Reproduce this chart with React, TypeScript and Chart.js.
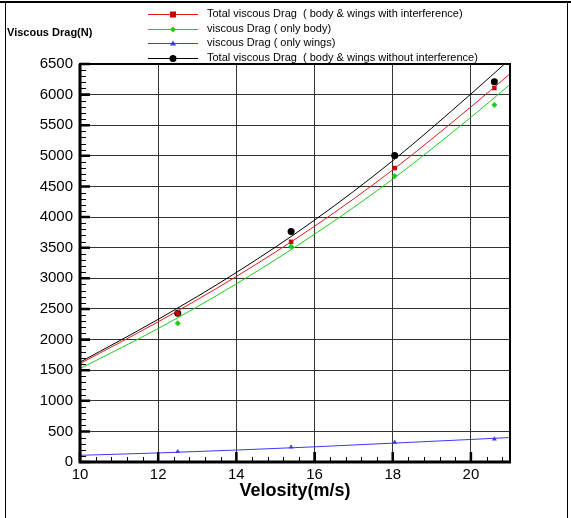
import React, { useEffect, useRef } from "react";
import { Chart, registerables } from "chart.js";

Chart.register(...registerables);

// Fitted curves
const xFit = [10, 12, 14, 16, 18, 20, 21];
const redFit = [1607, 2290, 3030, 3850, 4770, 5800, 6340];
const greenFit = [1525, 2180, 2910, 3720, 4620, 5630, 6165];
const blueFit = [109, 148, 195, 248, 308, 368, 400];
const blackFit = [1630, 2330, 3095, 3950, 4920, 6010, 6580];

// Computed points
const xPts = [12.5, 15.4, 18.05, 20.6];
const redPts = [2425, 3596, 4800, 6108];
const greenPts = [2267, 3519, 4670, 5830];
const bluePts = [168, 245, 322, 376];
const blackPts = [2430, 3764, 5007, 6211];

const xTicks = [10, 12, 14, 16, 18, 20];
const yTicks = [0, 500, 1000, 1500, 2000, 2500, 3000, 3500, 4000, 4500, 5000, 5500, 6000, 6500];

const legendLabels = [
  "Total viscous Drag  ( body & wings with interference)",
  "viscous Drag ( only body)",
  "viscous Drag ( only wings)",
  "Total viscous Drag  ( body & wings without interference)",
];

const RED = "#e01a1a";
const GREEN = "#1ecb1e";
const BLUE = "#3a3aff";
const BLACK = "#000000";
const FONT = "'Liberation Sans', Arial, sans-serif";

const pair = (xs: number[], ys: number[]) => xs.map((x, i) => ({ x, y: ys[i] }));

function drawMarker(ctx: CanvasRenderingContext2D, kind: string, x: number, y: number, color: string) {
  ctx.save();
  ctx.fillStyle = color;
  ctx.beginPath();
  if (kind === "rect") {
    ctx.rect(x - 3, y - 3, 6, 6);
  } else if (kind === "diamond") {
    ctx.moveTo(x, y - 3);
    ctx.lineTo(x + 3, y);
    ctx.lineTo(x, y + 3);
    ctx.lineTo(x - 3, y);
    ctx.closePath();
  } else if (kind === "triangle") {
    ctx.moveTo(x, y - 3);
    ctx.lineTo(x + 3, y + 2);
    ctx.lineTo(x - 3, y + 2);
    ctx.closePath();
  } else {
    ctx.arc(x, y, 3.5, 0, Math.PI * 2);
  }
  ctx.fill();
  ctx.restore();
}

const decorPlugin = {
  id: "decor",
  afterDraw(chart: any) {
    const ctx: CanvasRenderingContext2D = chart.ctx;
    const a = chart.chartArea;
    const xs = chart.scales.x;
    const ys = chart.scales.y;
    ctx.save();
    // outer frame
    ctx.strokeStyle = "#000";
    ctx.lineWidth = 2;
    ctx.beginPath();
    ctx.moveTo(0, 2);
    ctx.lineTo(571, 2);
    ctx.stroke();
    ctx.lineWidth = 1;
    ctx.beginPath();
    ctx.moveTo(5.5, 2);
    ctx.lineTo(5.5, 518);
    ctx.moveTo(567.5, 2);
    ctx.lineTo(567.5, 518);
    ctx.stroke();

    // minor & major ticks (inward)
    ctx.strokeStyle = "#000";
    ctx.lineWidth = 1;
    ctx.beginPath();
    for (let v = 0; v <= 6500; v += 100) {
      const py = Math.round(ys.getPixelForValue(v)) + 0.5;
      const len = v % 500 === 0 ? 10 : 6;
      ctx.moveTo(a.left, py);
      ctx.lineTo(a.left + len, py);
    }
    for (let i = 0; i <= 27; i++) {
      const v = 10 + i * 0.4;
      if (v > 21.01) break;
      const px = Math.round(xs.getPixelForValue(v)) + 0.5;
      const len = i % 5 === 0 ? 10 : 5;
      ctx.moveTo(px, a.bottom);
      ctx.lineTo(px, a.bottom - len);
    }
    ctx.stroke();
    // thicker major ticks
    ctx.lineWidth = 2.5;
    ctx.beginPath();
    for (const v of yTicks) {
      const py = ys.getPixelForValue(v);
      ctx.moveTo(a.left, py);
      ctx.lineTo(a.left + 10, py);
    }
    for (const v of xTicks) {
      const px = xs.getPixelForValue(v);
      ctx.moveTo(px, a.bottom);
      ctx.lineTo(px, a.bottom - 10);
    }
    ctx.stroke();

    // plot border
    ctx.lineWidth = 2;
    ctx.strokeRect(a.left, a.top, a.right - a.left, a.bottom - a.top);
    ctx.lineWidth = 3;
    ctx.beginPath();
    ctx.moveTo(a.left, a.top);
    ctx.lineTo(a.left, a.bottom);
    ctx.lineTo(a.right + 1, a.bottom);
    ctx.stroke();

    // axis titles
    ctx.fillStyle = "#000";
    ctx.font = `bold 11px ${FONT}`;
    ctx.textAlign = "left";
    ctx.textBaseline = "middle";
    ctx.fillText("Viscous Drag(N)", 7, 33);
    ctx.font = `bold 18px ${FONT}`;
    ctx.textAlign = "center";
    ctx.fillText("Velosity(m/s)", (a.left + a.right) / 2, 491);

    // legend
    const colors = [RED, GREEN, BLUE, BLACK];
    const kinds = ["rect", "diamond", "triangle", "circle"];
    const rows = [14, 28.5, 43, 57.5];
    ctx.font = `11px ${FONT}`;
    ctx.textAlign = "left";
    ctx.textBaseline = "middle";
    legendLabels.forEach((lab, i) => {
      const y = rows[i];
      ctx.strokeStyle = colors[i];
      ctx.lineWidth = 1;
      ctx.beginPath();
      ctx.moveTo(148, Math.round(y) + 0.5);
      ctx.lineTo(198, Math.round(y) + 0.5);
      ctx.stroke();
      drawMarker(ctx, kinds[i], 173, Math.round(y) + 0.5, i === 0 ? "#cc0000" : colors[i]);
      ctx.fillStyle = "#000";
      ctx.fillText(lab, 207, y);
    });
    ctx.restore();
  },
};

export default function App() {
  const ref = useRef<HTMLCanvasElement | null>(null);
  useEffect(() => {
    if (!ref.current) return;
    const lineDs = (data: number[], color: string) => ({
      type: "scatter" as const,
      data: pair(xFit, data),
      showLine: true,
      borderColor: color,
      borderWidth: 1,
      pointRadius: 0,
      cubicInterpolationMode: "monotone" as const,
      fill: false,
    });
    const ptDs = (data: number[], color: string, style: string, r: number) => ({
      type: "scatter" as const,
      data: pair(xPts, data),
      showLine: false,
      pointStyle: style,
      pointRadius: r,
      backgroundColor: color,
      borderColor: color,
      borderWidth: 0,
    });
    const chart = new Chart(ref.current, {
      type: "scatter",
      data: {
        datasets: [
          lineDs(blueFit, BLUE),
          lineDs(greenFit, GREEN),
          lineDs(redFit, RED),
          lineDs(blackFit, BLACK),
          ptDs(bluePts, BLUE, "triangle", 2.8),
          ptDs(greenPts, GREEN, "rectRot", 3),
          ptDs(redPts, "#cc0000", "rect", 3.2),
          ptDs(blackPts, BLACK, "circle", 3.5),
        ] as any,
      },
      options: {
        animation: false,
        responsive: false,
        devicePixelRatio: 1,
        layout: { padding: { left: 0, top: 64, right: 61, bottom: 0 } },
        plugins: { legend: { display: false }, tooltip: { enabled: false } },
        scales: {
          x: {
            type: "linear",
            min: 10,
            max: 21,
            afterBuildTicks: (s: any) => {
              s.ticks = xTicks.map((v) => ({ value: v }));
            },
            afterFit: (s: any) => {
              s.height = 56;
            },
            grid: { color: "#333", lineWidth: 1, drawTicks: false },
            border: { display: false },
            ticks: {
              color: "#000",
              font: { family: FONT, size: 15 },
              padding: 4,
              maxRotation: 0,
              callback: (v: any) => String(v),
            },
          },
          y: {
            type: "linear",
            min: 0,
            max: 6500,
            afterBuildTicks: (s: any) => {
              s.ticks = yTicks.map((v) => ({ value: v }));
            },
            afterFit: (s: any) => {
              s.width = 80;
            },
            grid: { color: "#333", lineWidth: 1, drawTicks: false },
            border: { display: false },
            ticks: {
              color: "#000",
              font: { family: FONT, size: 15 },
              padding: 7,
              callback: (v: any) => String(v),
            },
          },
        },
      },
      plugins: [decorPlugin],
    });
    return () => chart.destroy();
  }, []);
  return (
    <div style={{ position: "absolute", left: 0, top: 0, width: 571, height: 518, background: "#fff" }}>
      <canvas ref={ref} width={571} height={518} style={{ display: "block" }} />
    </div>
  );
}
